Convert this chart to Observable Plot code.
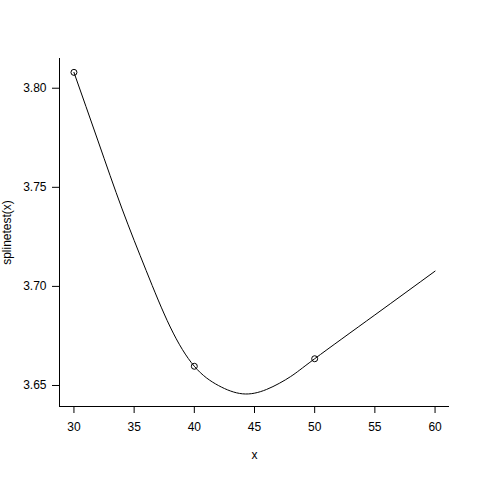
<!DOCTYPE html>
<html>
<head>
<meta charset="utf-8">
<script src="https://cdn.jsdelivr.net/npm/d3@7"></script>
<script src="https://cdn.jsdelivr.net/npm/@observablehq/plot@0.6"></script>
<style>
  html, body { margin: 0; padding: 0; background: #fff; }
</style>
</head>
<body>
<div id="chart"></div>
<script>
// Curve samples
const curveX = [30, 32, 34, 36, 38, 40, 42, 44, 46, 48, 50, 55, 60];
const curveY = [3.808, 3.7734, 3.7391, 3.708, 3.6795, 3.6597, 3.650, 3.6458, 3.648, 3.6545, 3.6635, 3.6856, 3.7077];
// Knot points (open circles)
const pointX = [30, 40, 50];
const pointY = [3.808, 3.6597, 3.6635];
// Axis ticks
const xTicks = [30, 35, 40, 45, 50, 55, 60];
const yTicks = [3.65, 3.70, 3.75, 3.80];
const xDomain = [28.8, 61.2];
const yDomain = [3.6394, 3.815];

const curve = curveX.map((x, i) => ({x, y: curveY[i]}));
const points = pointX.map((x, i) => ({x, y: pointY[i]}));

const chart = Plot.plot({
  width: 480,
  height: 480,
  marginLeft: 59,
  marginRight: 31,
  marginTop: 58,
  marginBottom: 74,
  style: {fontFamily: "'Liberation Sans', Arial, sans-serif", fontSize: "12px", background: "#fff", color: "#000"},
  x: {domain: xDomain},
  y: {domain: yDomain},
  marks: [
    Plot.ruleX([xDomain[0]], {stroke: "#000"}),
    Plot.ruleY([yDomain[0]], {stroke: "#000"}),
    Plot.axisX({ticks: xTicks, tickSize: 7, tickPadding: 9, tickFormat: d3.format("d"), label: "x", labelArrow: "none", labelAnchor: "center", labelOffset: 52, fontSize: 12}),
    Plot.axisY({ticks: yTicks, tickSize: 7, tickPadding: 6, tickFormat: d3.format(".2f"), label: "splinetest(x)", labelArrow: "none", labelAnchor: "center", labelOffset: 57, fontSize: 12}),
    Plot.line(curve, {x: "x", y: "y", curve: "natural", stroke: "#000", strokeWidth: 1}),
    Plot.dot(points, {x: "x", y: "y", r: 3, stroke: "#000", fill: "none", strokeWidth: 1})
  ]
});
document.getElementById("chart").appendChild(chart);
</script>
</body>
</html>
